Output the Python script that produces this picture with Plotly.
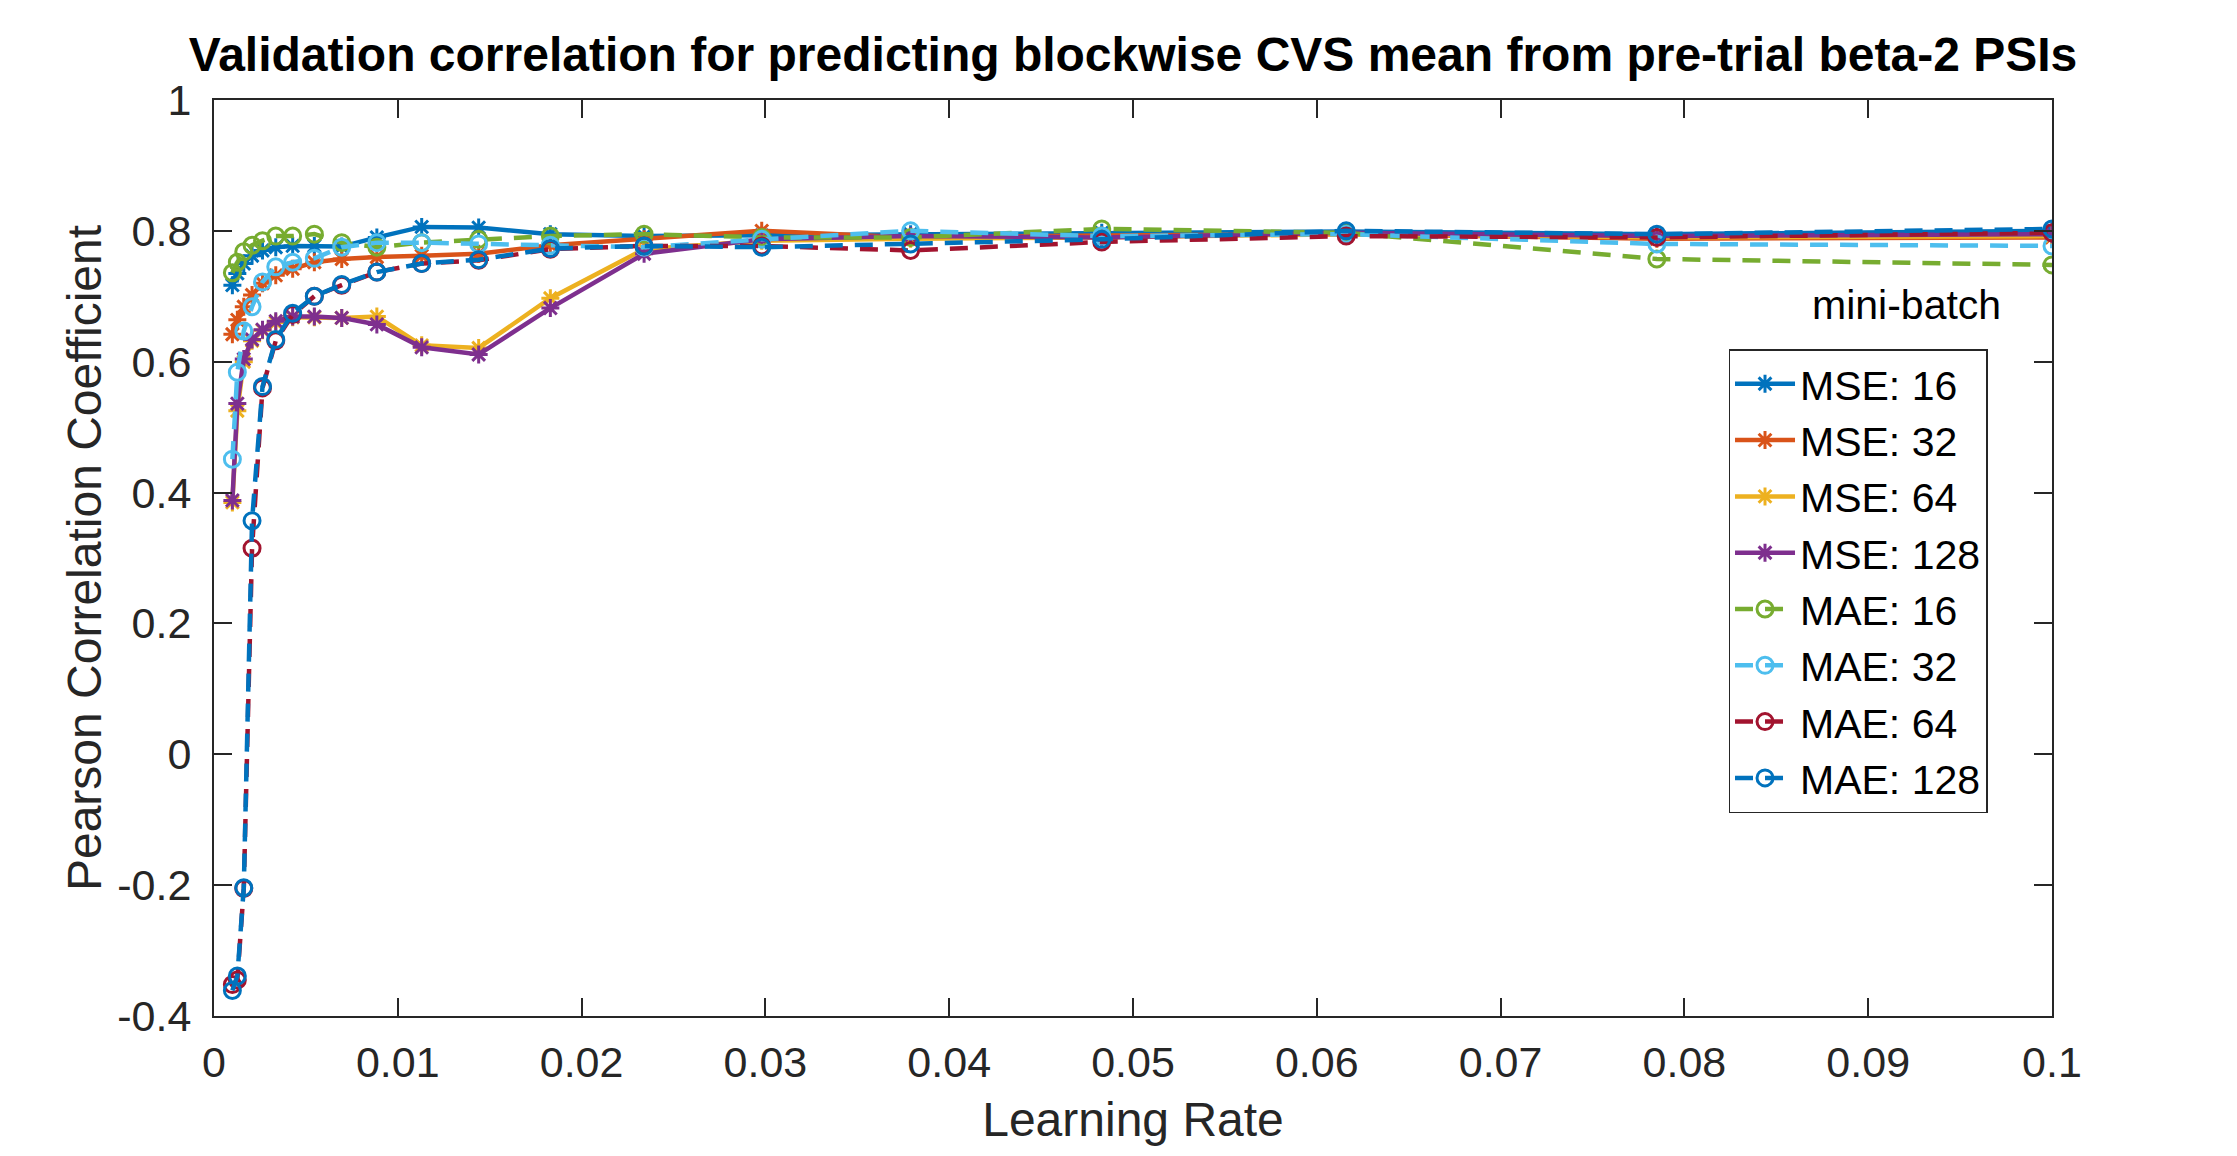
import plotly.graph_objects as go

# Learning rates (x)
learning_rate = [0.00100, 0.00127, 0.00162, 0.00207, 0.00264, 0.00336, 0.00428, 0.00546,
                 0.00695, 0.00886, 0.0113, 0.0144, 0.0183, 0.0234, 0.0298, 0.0379,
                 0.0483, 0.0616, 0.0785, 0.1000]

mse_16 = [0.717, 0.735, 0.750, 0.762, 0.770, 0.775, 0.777, 0.777, 0.776, 0.790,
          0.806, 0.805, 0.795, 0.792, 0.793, 0.795, 0.797, 0.799, 0.795, 0.800]
mse_32 = [0.642, 0.664, 0.684, 0.702, 0.720, 0.732, 0.742, 0.752, 0.757, 0.760,
          0.762, 0.765, 0.778, 0.787, 0.800, 0.790, 0.793, 0.795, 0.788, 0.790]
mse_64 = [0.385, 0.525, 0.600, 0.632, 0.648, 0.660, 0.668, 0.668, 0.667, 0.669,
          0.625, 0.621, 0.697, 0.772, 0.785, 0.788, 0.790, 0.795, 0.790, 0.792]
mse_128 = [0.388, 0.536, 0.604, 0.634, 0.649, 0.662, 0.669, 0.669, 0.667, 0.657,
           0.622, 0.611, 0.682, 0.765, 0.787, 0.792, 0.790, 0.797, 0.792, 0.795]
mae_16 = [0.736, 0.752, 0.768, 0.778, 0.785, 0.792, 0.792, 0.795, 0.782, 0.775,
          0.782, 0.787, 0.792, 0.795, 0.790, 0.790, 0.803, 0.797, 0.757, 0.748]
mae_32 = [0.451, 0.584, 0.647, 0.684, 0.722, 0.745, 0.752, 0.758, 0.775, 0.782,
          0.782, 0.780, 0.778, 0.775, 0.787, 0.800, 0.792, 0.795, 0.780, 0.777]
mae_64 = [-0.352, -0.345, -0.205, 0.315, 0.560, 0.632, 0.672, 0.700, 0.717, 0.737,
          0.750, 0.755, 0.772, 0.777, 0.777, 0.770, 0.783, 0.792, 0.790, 0.797]
mae_128 = [-0.361, -0.339, -0.204, 0.357, 0.562, 0.634, 0.674, 0.700, 0.718, 0.737,
           0.750, 0.756, 0.773, 0.777, 0.775, 0.780, 0.787, 0.800, 0.795, 0.803]

series_names = ["MSE: 16", "MSE: 32", "MSE: 64", "MSE: 128",
                "MAE: 16", "MAE: 32", "MAE: 64", "MAE: 128"]
series_values = [mse_16, mse_32, mse_64, mse_128, mae_16, mae_32, mae_64, mae_128]
colors = ["#0072BD", "#D95319", "#EDB120", "#7E2F8E",
          "#77AC30", "#4DBEEE", "#A2142F", "#0072BD"]

x_tickvals = [0, 0.01, 0.02, 0.03, 0.04, 0.05, 0.06, 0.07, 0.08, 0.09, 0.1]
x_ticktext = ["0", "0.01", "0.02", "0.03", "0.04", "0.05", "0.06", "0.07", "0.08", "0.09", "0.1"]
y_tickvals = [-0.4, -0.2, 0, 0.2, 0.4, 0.6, 0.8, 1.0]
y_ticktext = ["-0.4", "-0.2", "0", "0.2", "0.4", "0.6", "0.8", "1"]

FONT = "Liberation Sans, Arial, Helvetica, sans-serif"
AX = "#262626"

fig = go.Figure()
for name, vals, col in zip(series_names, series_values, colors):
    is_mae = name.startswith("MAE")
    fig.add_trace(go.Scatter(
        x=learning_rate, y=vals, name=name, mode="lines+markers",
        line=dict(color=col, width=4.5, dash="18px,12px" if is_mae else "solid"),
        marker=dict(symbol="circle-open" if is_mae else "asterisk-open",
                    size=16 if is_mae else 15, color=col,
                    line=dict(width=3, color=col)),
    ))

axis_common = dict(
    showline=True, linecolor=AX, linewidth=2, mirror="allticks",
    ticks="inside", ticklen=18, tickwidth=1.5, tickcolor=AX,
    showgrid=False, zeroline=False,
    tickfont=dict(family=FONT, size=43, color=AX),
)

fig.update_layout(
    width=2237, height=1156,
    margin=dict(l=214, r=185, t=100, b=140),
    paper_bgcolor="white", plot_bgcolor="white",
    title=dict(text="Validation correlation for predicting blockwise CVS mean from pre-trial beta-2 PSIs",
               x=0.5, xref="paper", xanchor="center", y=1 - 54 / 1156, yanchor="middle",
               font=dict(family=FONT, size=48, color="black", weight="bold")),
    xaxis=dict(range=[0, 0.1], tickvals=x_tickvals, ticktext=x_ticktext,
               ticklabelstandoff=7,
               title=dict(text="Learning Rate", font=dict(family=FONT, size=48, color=AX), standoff=18),
               **axis_common),
    yaxis=dict(range=[-0.4, 1.0], tickvals=y_tickvals, ticktext=y_ticktext,
               ticklabelstandoff=12,
               title=dict(text="Pearson Correlation Coefficient", font=dict(family=FONT, size=48, color=AX), standoff=0),
               **axis_common),
    legend=dict(x=0.824, y=0.728, xanchor="left", yanchor="top",
                bgcolor="white", bordercolor=AX, borderwidth=1.5,
                font=dict(family=FONT, size=41, color="black"),
                tracegroupgap=0, itemwidth=60),
    showlegend=True,
    annotations=[dict(text="mini-batch", x=0.921, y=0.776, xref="paper", yref="paper",
                      xanchor="center", yanchor="middle", showarrow=False,
                      font=dict(family=FONT, size=41, color="black"))],
)

fig.write_html("out.html")
